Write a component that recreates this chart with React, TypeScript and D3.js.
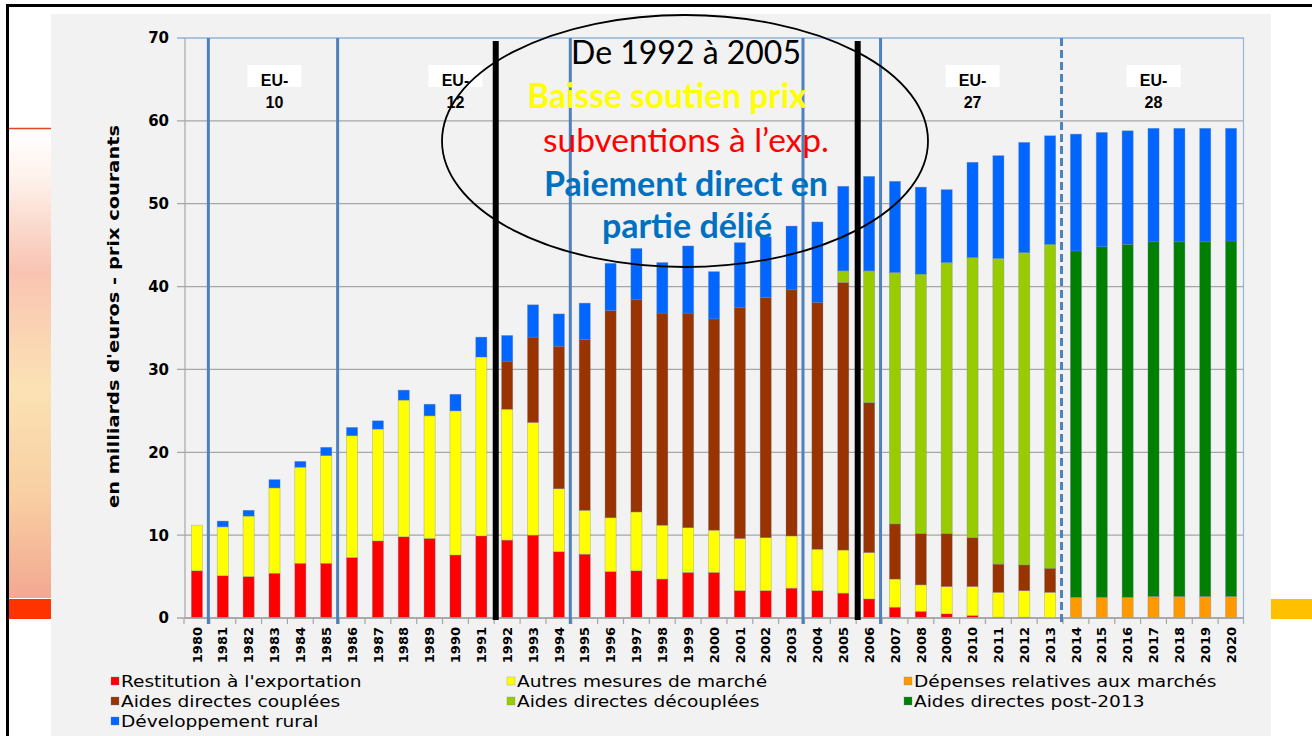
import React from 'react';
import * as d3 from 'd3';

const years = ['1980','1981','1982','1983','1984','1985','1986','1987','1988','1989','1990','1991','1992','1993','1994','1995','1996','1997','1998','1999','2000','2001','2002','2003','2004','2005','2006','2007','2008','2009','2010','2011','2012','2013','2014','2015','2016','2017','2018','2019','2020'];

const restitution = [5.7,5.1,5.0,5.4,6.6,6.6,7.3,9.3,9.8,9.6,7.6,9.9,9.4,10.0,8.0,7.7,5.6,5.7,4.7,5.5,5.5,3.3,3.3,3.6,3.3,3.0,2.3,1.3,0.8,0.5,0.3,0.1,0.1,0,0,0,0,0,0,0,0];
const autresMesures = [5.5,5.9,7.3,10.3,11.6,13.0,14.7,13.5,16.5,14.8,17.4,21.6,15.8,13.6,7.6,5.3,6.5,7.1,6.5,5.4,5.1,6.3,6.4,6.3,5.0,5.2,5.6,3.4,3.2,3.3,3.5,3.0,3.2,3.1,0,0,0,0,0,0,0];
const depensesMarches = [0,0,0,0,0,0,0,0,0,0,0,0,0,0,0,0,0,0,0,0,0,0,0,0,0,0,0,0,0,0,0,0,0,0,2.5,2.5,2.5,2.6,2.6,2.6,2.6];
const aidesCouplees = [0,0,0,0,0,0,0,0,0,0,0,0,5.8,10.3,17.2,20.6,25.0,25.6,25.6,25.9,25.5,27.9,29.0,29.7,29.8,32.3,18.1,6.65,6.2,6.4,5.9,3.4,3.1,2.9,0,0,0,0,0,0,0];
const aidesDecouplees = [0,0,0,0,0,0,0,0,0,0,0,0,0,0,0,0,0,0,0,0,0,0,0,0,0,1.4,15.9,30.35,31.3,32.7,33.8,36.9,37.7,39.1,0,0,0,0,0,0,0];
const aidesPost2013 = [0,0,0,0,0,0,0,0,0,0,0,0,0,0,0,0,0,0,0,0,0,0,0,0,0,0,0,0,0,0,0,0,0,0,41.8,42.3,42.6,42.8,42.8,42.8,42.9];
const developpementRural = [0,0.7,0.7,1.0,0.7,1.0,1.0,1.0,1.2,1.4,2.0,2.4,3.1,3.9,3.9,4.4,5.7,6.2,6.1,8.1,5.7,7.8,7.3,7.7,9.7,10.2,11.4,11.0,10.5,8.8,11.5,12.4,13.3,13.1,14.1,13.8,13.7,13.7,13.7,13.7,13.6];

const yTicks = [0, 10, 20, 30, 40, 50, 60, 70];

const seriesKeys = ['restitution','autres','depenses','couplees','decouplees','post2013','rural'];
const seriesLabels = ['Restitution à l\'exportation','Autres mesures de marché','Dépenses relatives aux marchés','Aides directes couplées','Aides directes découplées','Aides directes post-2013','Développement rural'];
const seriesColors = ['#ff0000','#ffff00','#ff9900','#993300','#99cc00','#008000','#0066ff'];

const solidSeparatorsAfter = ['1980','1985','1994','2003','2006'];
const dashedSeparatorsAfter = ['2013'];
const blackLinesAfter = ['1991','2005'];
const enlargements = [
  { top: 'EU-', bottom: '10', from: '1981', to: '1985' },
  { top: 'EU-', bottom: '12', from: '1986', to: '1994' },
  { top: 'EU-', bottom: '27', from: '2007', to: '2013' },
  { top: 'EU-', bottom: '28', from: '2014', to: '2020' },
];

const noteLines = [
  { text: 'De 1992 à 2005', color: '#000000', bold: false },
  { text: 'Baisse soutien prix', color: '#ffff00', bold: true },
  { text: 'subventions à l\u2019exp.', color: '#ff0000', bold: false },
  { text: 'Paiement direct en', color: '#0070c0', bold: true },
  { text: 'partie délié', color: '#0070c0', bold: true },
];

const W = 1312;
const H = 736;
const M = { left: 184, right: 1244, top: 38, bottom: 618 };

export default function App() {
  const x = d3.scaleBand<string>().domain(years).range([M.left, M.right]).paddingInner(0).paddingOuter(0);
  const y = d3.scaleLinear().domain([0, 70]).range([M.bottom, M.top]);
  const step = x.step();
  const barW = step * 0.43;

  const table = years.map((yr, i) => ({
    year: yr,
    restitution: restitution[i],
    autres: autresMesures[i],
    depenses: depensesMarches[i],
    couplees: aidesCouplees[i],
    decouplees: aidesDecouplees[i],
    post2013: aidesPost2013[i],
    rural: developpementRural[i],
  }));
  const stacked = d3.stack<any>().keys(seriesKeys)(table);

  const after = (yr: string) => (x(yr) as number) + step;
  const mid = (yr: string) => (x(yr) as number) + step / 2;

  const noteX = [686, 667, 686, 686, 687];
  const noteY = [64, 108, 152, 196, 238];
  const noteSize = [32, 33.5, 33.5, 34, 34];

  const legendCols = [121, 517, 914];
  const legendRows = [681, 701, 721];

  return (
    <svg width={W} height={H} viewBox={`0 0 ${W} ${H}`} style={{ position: 'absolute', left: 0, top: 0, display: 'block' }}>
      <defs>
        <linearGradient id="leftGrad" x1="0" y1="0" x2="0" y2="1">
          <stop offset="0%" stopColor="#ffffff" />
          <stop offset="10%" stopColor="#fef2ec" />
          <stop offset="30%" stopColor="#f9c4b2" />
          <stop offset="55%" stopColor="#fbe2b4" />
          <stop offset="78%" stopColor="#f8cfa2" />
          <stop offset="100%" stopColor="#f3a892" />
        </linearGradient>
      </defs>
      <rect x={0} y={0} width={W} height={H} fill="#ffffff" />
      {/* left decorations */}
      <rect x={8} y={130} width={44} height={468} fill="url(#leftGrad)" />
      <line x1={8} x2={52} y1={128.5} y2={128.5} stroke="#e2461c" strokeWidth={1.5} />
      <rect x={8} y={599} width={44} height={20} fill="#ff3300" />
      <rect x={1271} y={599} width={W - 1271} height={20} fill="#ffc000" />
      {/* panel */}
      <rect x={51} y={14} width={1220} height={H - 14} fill="#f2f2f2" />
      {/* outer frame */}
      <path d={`M7.5,${H + 5} V5.5 H${W + 5}`} fill="none" stroke="#000" strokeWidth={3} />

      {/* gridlines */}
      {yTicks.map((t) => (
        <line key={'g' + t} x1={M.left - 7} x2={M.right} y1={y(t)} y2={y(t)} stroke={t === 70 ? '#95b3d7' : '#a6a6a6'} strokeWidth={1.3} />
      ))}
      {/* axis frame lines */}
      <line x1={M.left + 1} x2={M.left + 1} y1={M.top} y2={M.bottom} stroke="#a6a6a6" strokeWidth={1.2} />
      <line x1={M.right - 0.5} x2={M.right - 0.5} y1={M.top} y2={M.bottom + 6} stroke="#95b3d7" strokeWidth={1.2} />
      {/* x ticks */}
      {years.map((yr) => (
        <line key={'t' + yr} x1={x(yr) as number} x2={x(yr) as number} y1={M.bottom} y2={M.bottom + 6} stroke="#a6a6a6" strokeWidth={1.2} />
      ))}

      {/* bars */}
      {stacked.map((layer, si) => (
        <g key={layer.key} fill={seriesColors[si]}>
          {layer.map((d, i) => {
            const h = y(d[0]) - y(d[1]);
            if (h <= 0.05) return null;
            return (
              <rect key={i} x={mid(years[i]) - barW / 2} y={y(d[1])} width={barW} height={h} stroke="rgba(110,130,160,0.45)" strokeWidth={0.7} />
            );
          })}
        </g>
      ))}

      {/* x axis line */}
      <line x1={M.left} x2={M.right} y1={M.bottom} y2={M.bottom} stroke="#a6a6a6" strokeWidth={1.3} />

      {/* separators */}
      {solidSeparatorsAfter.map((yr) => (
        <line key={'s' + yr} x1={after(yr) - 1.5} x2={after(yr) - 1.5} y1={M.top} y2={M.bottom + 6} stroke="#4f81bd" strokeWidth={3} />
      ))}
      {dashedSeparatorsAfter.map((yr) => (
        <line key={'d' + yr} x1={after(yr) - 1.5} x2={after(yr) - 1.5} y1={M.top} y2={M.bottom + 6} stroke="#4f81bd" strokeWidth={3} strokeDasharray="8 4" />
      ))}

      {/* enlargement labels */}
      {enlargements.map((e) => {
        const cx = ((x(e.from) as number) + after(e.to)) / 2;
        return (
          <g key={e.bottom} fontFamily="'Liberation Sans', Arial, sans-serif" fontWeight="bold" fontSize={16} textAnchor="middle" fill="#000">
            <rect x={cx - 27} y={65} width={54} height={22} fill="#ffffff" />
            <text x={cx} y={86}>{e.top}</text>
            <text x={cx} y={108}>{e.bottom}</text>
          </g>
        );
      })}

      {/* thick black lines */}
      {blackLinesAfter.map((yr) => (
        <line key={'b' + yr} x1={after(yr) + 1.5} x2={after(yr) + 1.5} y1={41} y2={620} stroke="#000" strokeWidth={6} />
      ))}

      {/* ellipse annotation */}
      <ellipse cx={685} cy={141} rx={243} ry={126} fill="none" stroke="#000" strokeWidth={1.8} />
      {noteLines.map((n, i) => (
        <text key={'n' + i} x={noteX[i]} y={noteY[i]} textAnchor="middle" fontFamily="Lato, 'Open Sans', sans-serif" fontWeight={n.bold ? 'bold' : 'normal'} fontSize={noteSize[i]} fill={n.color}>
          {n.text}
        </text>
      ))}

      {/* y ticks */}
      {yTicks.map((t) => (
        <text key={'yl' + t} x={169} y={y(t)} dy="0.36em" textAnchor="end" fontFamily="'DejaVu Sans', sans-serif" fontWeight="bold" fontSize={15} fill="#000">
          {t}
        </text>
      ))}
      {/* y title */}
      <text transform={`translate(119,${(125 + 508) / 2}) rotate(-90)`} textAnchor="middle" fontFamily="'DejaVu Sans', sans-serif" fontWeight="bold" fontSize={16} fill="#000" textLength={383} lengthAdjust="spacingAndGlyphs">
        en milliards d'euros - prix courants
      </text>

      {/* x labels */}
      {years.map((yr) => (
        <text key={'xl' + yr} transform={`translate(${mid(yr)},627) rotate(-90)`} dy="0.36em" textAnchor="end" fontFamily="'DejaVu Sans', sans-serif" fontWeight="bold" fontSize={13} fill="#000">
          {yr}
        </text>
      ))}

      {/* legend */}
      {seriesLabels.map((lab, i) => {
        const col = i % 3;
        const row = Math.floor(i / 3);
        const lx = legendCols[col];
        const ly = legendRows[row];
        return (
          <g key={'lg' + i}>
            <rect x={lx - 10} y={ly - 4} width={8} height={8} fill={seriesColors[i]} stroke="rgba(110,130,160,0.5)" strokeWidth={0.6} />
            <text transform={`translate(${lx},${ly}) scale(1.16,1)`} dy="0.36em" fontFamily="'DejaVu Sans', sans-serif" fontSize={16} fill="#000">
              {lab}
            </text>
          </g>
        );
      })}
    </svg>
  );
}
